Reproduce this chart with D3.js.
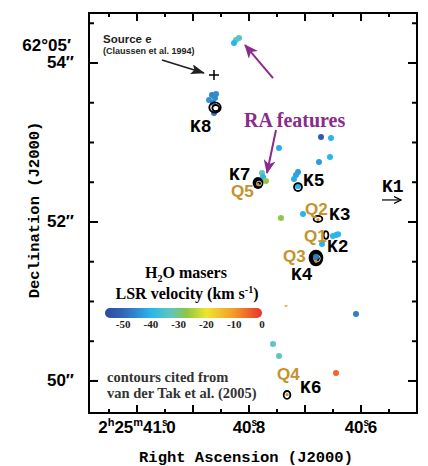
<!DOCTYPE html>
<html>
<head>
<meta charset="utf-8">
<script src="https://cdn.jsdelivr.net/npm/d3@7"></script>
<style>
body { margin: 0; background: #fff; }
text { font-family: "Liberation Sans", Arial, sans-serif; }
</style>
</head>
<body>
<svg id="chart"></svg>
<script>
// H2O maser spots: RA seconds (2h25m..s), Dec arcsec (62d05'..") and LSR velocity (km/s)
var maserRA  = [40.8232, 40.8179, 40.8268,
                40.8661, 40.8589, 40.8714, 40.8607, 40.8643, 40.8625,
                40.6714, 40.6536, 40.7464, 40.6554, 40.6750,
                40.7125, 40.7161, 40.7196, 40.7125,
                40.7768, 40.7750, 40.7696,
                40.7429, 40.7036,
                40.6500, 40.6446, 40.6410, 40.6696,
                40.6804, 40.6089, 40.7571, 40.7464, 40.6446];
var maserDec = [54.289, 54.314, 54.252,
                53.597, 53.610, 53.535, 53.560, 53.497, 53.371,
                53.069, 53.057, 52.931, 52.818, 52.755,
                52.629, 52.591, 52.541, 52.453,
                52.616, 52.566, 52.516,
                52.050, 52.101,
                51.824, 51.836, 51.845, 51.723,
                51.560, 50.843, 50.465, 50.314, 50.101];
var maserVel = [-33, -34, -40,
                -46, -45, -44, -45, -47, -48,
                -53, -40, -41, -40, -43,
                -43, -42, -41, -40,
                -33, -39, -27,
                -27, -40,
                -40, -40, -40, -40,
                -47, -47, -33, -33, -5];

// faint -12 km/s spot
var tinyRA = [40.7339], tinyDec = [50.943];

// continuum contours (van der Tak et al. 2005): centre, semi-axes (arcsec), levels
var contName   = ["K8", "K7", "K5", "K3", "Q1", "K4", "K6"];
var contRA     = [40.8607, 40.7839, 40.7125, 40.6768, 40.6625, 40.6804, 40.7321];
var contDec    = [53.440, 52.491, 52.440, 52.038, 51.836, 51.547, 49.824];
var contRx     = [0.072, 0.068, 0.050, 0.055, 0.030, 0.092, 0.042];
var contRy     = [0.065, 0.075, 0.050, 0.038, 0.048, 0.105, 0.050];
var contLevels = [2, 3, 1, 1, 1, 3, 1];

// quasar-like (Q) positions inside contours
var qRA  = [40.6768, 40.6804, 40.7321, 40.7839];
var qDec = [52.030, 51.505, 49.830, 52.470];

// source labels
var kNames = ["K8", "K7", "K5", "K3", "K2", "K4", "K6", "K1"];
var kRA    = [40.9054, 40.8357, 40.7036, 40.6571, 40.6607, 40.7250, 40.7089, 40.5625];
var kDec   = [53.132, 52.528, 52.453, 52.025, 51.623, 51.270, 49.849, 52.377];
var qNames = ["Q5", "Q2", "Q1", "Q3", "Q4"];
var qLabRA = [40.8321, 40.7000, 40.7018, 40.7393, 40.7500];
var qLabDec= [52.314, 52.088, 51.748, 51.497, 50.013];

// Claussen et al. 1994 source e
var srcRA = 40.8625, srcDec = 53.849;

var xMajor = [41.0, 40.8, 40.6];
var yMajor = [54, 52, 50];
var velTicks = [-50, -40, -30, -20, -10, 0];

var width = 428, height = 466;
var svg = d3.select('#chart').attr('width', width).attr('height', height);

var pL = 89, pR = 417, pT = 13, pB = 413;
var x = d3.scaleLinear().domain([41.0857, 40.50]).range([pL, pR]);
var y = d3.scaleLinear().domain([54.629, 49.597]).range([pT, pB]);
var pxPerArcsec = (pB - pT) / (54.629 - 49.597);

// colour map like the velocity bar
var velStops = [-56.5, -50, -44, -40, -33, -27, -20, -10, 0];
var velCols  = ['#2b4b9f', '#2f67b6', '#2f93d6', '#27b6ea', '#5ec6bf', '#8fc742', '#efe52e', '#f59a2a', '#e8322b'];
var color = d3.scaleLinear().domain(velStops).range(velCols);

var defs = svg.append('defs');
defs.append('marker').attr('id', 'headBlack')
    .attr('viewBox', '0 0 14 10').attr('refX', 13).attr('refY', 5)
    .attr('markerWidth', 14).attr('markerHeight', 10)
    .attr('markerUnits', 'userSpaceOnUse').attr('orient', 'auto')
  .append('path').attr('d', 'M0,0 L14,5 L0,10 L3,5 Z').attr('fill', '#231f20');
defs.append('marker').attr('id', 'headPurple')
    .attr('viewBox', '0 0 14 12').attr('refX', 13).attr('refY', 6)
    .attr('markerWidth', 14).attr('markerHeight', 12)
    .attr('markerUnits', 'userSpaceOnUse').attr('orient', 'auto')
  .append('path').attr('d', 'M0,0 L14,6 L0,12 L4,6 Z').attr('fill', '#8b2b8b');
defs.append('marker').attr('id', 'headThin')
    .attr('viewBox', '0 0 8 8').attr('refX', 7).attr('refY', 4)
    .attr('markerWidth', 8).attr('markerHeight', 8)
    .attr('markerUnits', 'userSpaceOnUse').attr('orient', 'auto')
  .append('path').attr('d', 'M0,0.5 L7,4 L0,7.5').attr('fill', 'none').attr('stroke', '#000').attr('stroke-width', 1.2);

var grad = defs.append('linearGradient').attr('id', 'velGrad');
velStops.forEach(function(v, i) {
    grad.append('stop').attr('offset', (v - velStops[0]) / (0 - velStops[0]))
        .attr('stop-color', velCols[i]);
});

// frame + ticks
svg.append('rect').attr('x', pL).attr('y', pT).attr('width', pR - pL).attr('height', pB - pT)
    .attr('fill', 'none').attr('stroke', '#000').attr('stroke-width', 2);

var xt = d3.range(0, 12).map(function(i) { return +(40.50 + i * 0.05).toFixed(2); });
var yt = d3.range(0, 10).map(function(i) { return 50 + i * 0.5; });
var isLongX = function(t) { return Math.abs(Math.round(t * 10) - t * 10) < 1e-6; };
var isLongY = function(t) { return yMajor.indexOf(t) >= 0; };

var ticks = svg.append('g').attr('stroke', '#000').attr('stroke-width', 2);
xt.forEach(function(t) {
    var len = isLongX(t) ? 8 : 4;
    ticks.append('line').attr('x1', x(t)).attr('x2', x(t)).attr('y1', pB).attr('y2', pB - len);
    ticks.append('line').attr('x1', x(t)).attr('x2', x(t)).attr('y1', pT).attr('y2', pT + len);
});
yt.forEach(function(t) {
    var len = isLongY(t) ? 9 : 5;
    ticks.append('line').attr('y1', y(t)).attr('y2', y(t)).attr('x1', pL).attr('x2', pL + len);
    ticks.append('line').attr('y1', y(t)).attr('y2', y(t)).attr('x1', pR).attr('x2', pR - len);
});

// x tick labels: 2h25m41s.0 style
xMajor.forEach(function(t, i) {
    var s = t.toFixed(1).split('.');
    var tx = svg.append('text').attr('x', x(t)).attr('y', 433).attr('text-anchor', 'middle')
        .attr('font-size', 17).attr('font-weight', 'bold');
    if (i === 0) {
        tx.append('tspan').text('2');
        tx.append('tspan').attr('font-size', 11).attr('dy', -7).text('h');
        tx.append('tspan').attr('dy', 7).text('25');
        tx.append('tspan').attr('font-size', 11).attr('dy', -7).text('m');
        tx.append('tspan').attr('dy', 7).text(s[0]);
    } else {
        tx.append('tspan').text(s[0]);
    }
    tx.append('tspan').attr('font-size', 10).attr('dy', -7).text('s');
    tx.append('tspan').attr('dy', 7).attr('dx', -6).text('.');
    tx.append('tspan').text(s[1]);
});

// y tick labels
yMajor.forEach(function(t) {
    svg.append('text').attr('x', 74).attr('y', y(t) + 5).attr('text-anchor', 'end')
        .attr('font-size', 17).attr('font-weight', 'bold').text(t + '\u2033');
});
svg.append('text').attr('x', 71).attr('y', y(54) - 12).attr('text-anchor', 'end')
    .attr('font-size', 17).attr('font-weight', 'bold').text('62\u00b005\u2032');

// axis titles
svg.append('text').attr('x', 246).attr('y', 462).attr('text-anchor', 'middle')
    .style('font-family', '"Liberation Mono", monospace').attr('font-size', 15.5).attr('font-weight', 'bold')
    .text('Right Ascension (J2000)');
svg.append('text').attr('transform', 'translate(39,210) rotate(-90)').attr('text-anchor', 'middle')
    .style('font-family', '"Liberation Mono", monospace').attr('font-size', 15.5).attr('font-weight', 'bold')
    .text('Declination (J2000)');

// maser spots
svg.append('g').selectAll('circle')
    .data(maserRA)
    .enter()
    .append('circle')
    .attr('cx', function(d) { return x(d); })
    .attr('cy', function(d, i) { return y(maserDec[i]); })
    .attr('r', 3)
    .attr('fill', function(d, i) { return color(maserVel[i]); });
svg.append('g').selectAll('rect')
    .data(tinyRA).enter().append('rect')
    .attr('x', function(d) { return x(d) - 1.5; })
    .attr('y', function(d, i) { return y(tinyDec[i]) - 0.8; })
    .attr('width', 3).attr('height', 1.6).attr('fill', color(-12));

// contours (heavy ones are nested so tightly they look solid)
contName.forEach(function(n, i) {
    var g = svg.append('g').attr('transform', 'translate(' + x(contRA[i]) + ',' + y(contDec[i]) + ')');
    var rx = contRx[i] * pxPerArcsec, ry = contRy[i] * pxPerArcsec;
    if (contLevels[i] === 3) {
        g.append('ellipse').attr('rx', rx).attr('ry', ry).attr('fill', '#000');
        g.append('ellipse').attr('cx', 1).attr('cy', 0.5).attr('rx', rx * 0.45).attr('ry', ry * 0.4)
            .attr('fill', 'none').attr('stroke', '#fff').attr('stroke-width', 0.8);
    } else {
        for (var k = 0; k < contLevels[i]; k++) {
            var f = 1 - k * 0.4;
            g.append('ellipse').attr('cx', k * 0.8).attr('cy', k * 0.6)
                .attr('rx', rx * f).attr('ry', ry * f)
                .attr('fill', 'none').attr('stroke', '#000').attr('stroke-width', 1.8);
        }
    }
});

// spots sitting inside the solid contours stay visible
svg.append('g').selectAll('circle')
    .data([27]).enter().append('circle')
    .attr('cx', function(d) { return x(maserRA[d]); })
    .attr('cy', function(d) { return y(maserDec[d]); })
    .attr('r', 3).attr('fill', function(d) { return color(maserVel[d]); });

// Q positions
svg.append('g').selectAll('circle')
    .data(qRA).enter().append('circle')
    .attr('cx', function(d) { return x(d); })
    .attr('cy', function(d, i) { return y(qDec[i]); })
    .attr('r', 1.6).attr('fill', '#d0922c');

// source e
var sx = x(srcRA), sy = y(srcDec);
svg.append('path').attr('d', 'M' + (sx - 5) + ',' + sy + 'H' + (sx + 5) + 'M' + sx + ',' + (sy - 5) + 'V' + (sy + 5))
    .attr('stroke', '#000').attr('stroke-width', 1.5);
svg.append('text').attr('x', 103).attr('y', 43).attr('font-size', 11.5).attr('font-weight', 'bold')
    .attr('fill', '#231f20').text('Source e');
svg.append('text').attr('x', 103).attr('y', 54).attr('font-size', 9).attr('font-weight', 'bold')
    .attr('fill', '#231f20').text('(Claussen et al. 1994)');
svg.append('line').attr('x1', x(40.9554)).attr('y1', y(54.038)).attr('x2', x(40.8804)).attr('y2', y(53.874))
    .attr('stroke', '#231f20').attr('stroke-width', 1.6).attr('marker-end', 'url(#headBlack)');

// RA features
svg.append('text').attr('x', 244).attr('y', 127)
    .style('font-family', '"Liberation Serif", serif').attr('font-size', 20).attr('font-weight', 'bold')
    .attr('fill', '#8b2b8b').text('RA features');
svg.append('line').attr('x1', x(40.7571)).attr('y1', y(53.811)).attr('x2', x(40.8071)).attr('y2', y(54.226))
    .attr('stroke', '#8b2b8b').attr('stroke-width', 2).attr('marker-end', 'url(#headPurple)');
svg.append('line').attr('x1', x(40.7518)).attr('y1', y(53.157)).attr('x2', x(40.7679)).attr('y2', y(52.616))
    .attr('stroke', '#8b2b8b').attr('stroke-width', 2).attr('marker-end', 'url(#headPurple)');

// K / Q labels
svg.append('g').selectAll('text')
    .data(kNames).enter().append('text')
    .attr('x', function(d, i) { return x(kRA[i]); })
    .attr('y', function(d, i) { return y(kDec[i]); })
    .style('font-family', '"Liberation Mono", monospace').attr('font-size', 18).attr('font-weight', 'bold')
    .text(function(d) { return d; });
svg.append('g').selectAll('text')
    .data(qNames).enter().append('text')
    .attr('x', function(d, i) { return x(qLabRA[i]); })
    .attr('y', function(d, i) { return y(qLabDec[i]); })
    .attr('font-size', 17).attr('font-weight', 'bold').attr('fill', '#c4922e')
    .text(function(d) { return d; });
svg.append('line').attr('x1', x(40.5625)).attr('y1', y(52.277)).attr('x2', x(40.5286)).attr('y2', y(52.277))
    .attr('stroke', '#000').attr('stroke-width', 1.2).attr('marker-end', 'url(#headThin)');

// velocity colour bar
var cb = d3.scaleLinear().domain([-56.5, 0]).range([105, 262]);
svg.append('text').attr('x', 186).attr('y', 278).attr('text-anchor', 'middle')
    .style('font-family', '"Liberation Serif", serif').attr('font-size', 16).attr('font-weight', 'bold')
    .call(function(t) {
        t.append('tspan').text('H');
        t.append('tspan').attr('font-size', 10).attr('dy', 4).text('2');
        t.append('tspan').attr('dy', -4).text('O masers');
    });
svg.append('text').attr('x', 187).attr('y', 299).attr('text-anchor', 'middle')
    .style('font-family', '"Liberation Serif", serif').attr('font-size', 16).attr('font-weight', 'bold')
    .call(function(t) {
        t.append('tspan').text('LSR velocity (km s');
        t.append('tspan').attr('font-size', 10).attr('dy', -6).text('-1');
        t.append('tspan').attr('dy', 6).text(')');
    });
svg.append('rect').attr('x', cb(-56.5)).attr('y', 308).attr('width', cb(0) - cb(-56.5)).attr('height', 10)
    .attr('rx', 5).attr('fill', 'url(#velGrad)');
svg.append('g').selectAll('text')
    .data(velTicks).enter().append('text')
    .attr('x', function(d) { return cb(d); }).attr('y', 328).attr('text-anchor', 'middle')
    .style('font-family', '"Liberation Serif", serif').attr('font-size', 11).attr('font-weight', 'bold')
    .attr('fill', '#222').text(function(d) { return d; });

// contour credit
svg.append('text').attr('x', 107).attr('y', 382)
    .style('font-family', '"Liberation Serif", serif').attr('font-size', 14.5).attr('font-weight', 'bold')
    .attr('fill', '#333').text('contours cited from');
svg.append('text').attr('x', 107).attr('y', 398)
    .style('font-family', '"Liberation Serif", serif').attr('font-size', 14.5).attr('font-weight', 'bold')
    .attr('fill', '#333').text('van der Tak et al. (2005)');
</script>
</body>
</html>
